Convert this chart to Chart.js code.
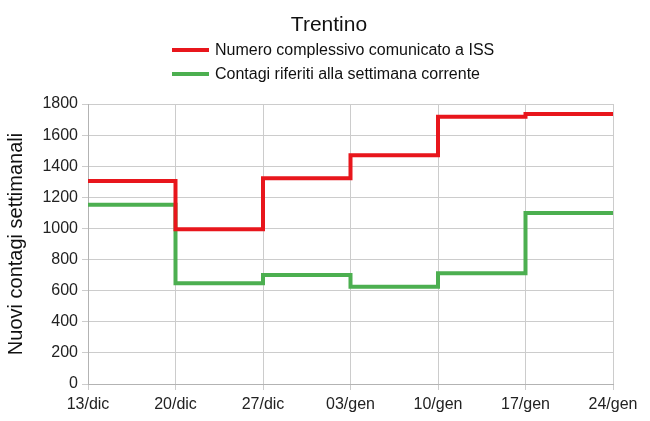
<!DOCTYPE html>
<html>
<head>
<meta charset="utf-8">
<script src="https://cdn.jsdelivr.net/npm/chart.js@4"></script>
<style>
	html, body { margin: 0; padding: 0; background: #fff; }
	#wrap { position: relative; width: 650px; height: 421px; font-family: 'Liberation Sans', Arial, sans-serif; color: #111; }
	#title { position: absolute; top: 11px; left: 4px; width: 650px; text-align: center; font-size: 21px; line-height: 26px; }
	.leg { position: absolute; left: 172px; font-size: 16px; line-height: 20px; display: flex; align-items: center; }
	.leg span.sw { display: inline-block; width: 37px; height: 4px; margin-right: 6px; }
	#chartBox { position: absolute; left: 0; top: 0; width: 650px; height: 421px; }
</style>
</head>
<body>
<div id="wrap">
	<div id="chartBox"><canvas id="trentino" width="650" height="421"></canvas></div>
	<div id="title">Trentino</div>
	<div class="leg" style="top:40px"><span class="sw" style="background:#e8161c"></span>Numero complessivo comunicato a ISS</div>
	<div class="leg" style="top:64px"><span class="sw" style="background:#4caf50"></span>Contagi riferiti alla settimana corrente</div>
</div>
<script>
// weeks (last label only closes the final step)
const weeks = ['13/dic', '20/dic', '27/dic', '03/gen', '10/gen', '17/gen', '24/gen'];
const totaleISS = [1305, 995, 1322, 1470, 1718, 1735, 1735];
const settimanaCorrente = [1152, 647, 700, 625, 712, 1100, 1100];
const yTicks = [0, 200, 400, 600, 800, 1000, 1200, 1400, 1600, 1800];

const ctx = document.getElementById('trentino').getContext('2d');
new Chart(ctx, {
	type: 'line',
	data: {
		labels: weeks,
		datasets: [
			{
				label: 'Numero complessivo comunicato a ISS',
				data: totaleISS,
				borderColor: '#e8161c',
				borderWidth: 4,
				stepped: 'before',
				pointRadius: 0,
				order: 0,
			},
			{
				label: 'Contagi riferiti alla settimana corrente',
				data: settimanaCorrente,
				borderColor: '#4caf50',
				borderWidth: 4,
				stepped: 'before',
				pointRadius: 0,
				order: 1,
			},
		],
	},
	options: {
		responsive: false,
		animation: false,
		layout: {
			padding: { top: 104, right: 37, left: 0, bottom: 0 },
		},
		plugins: {
			legend: { display: false },
			tooltip: { enabled: false },
		},
		scales: {
			x: {
				offset: false,
				grid: { color: '#cccccc', tickLength: 6 },
				border: { color: '#b3b3b3' },
				ticks: {
					color: '#222',
					font: { family: 'Liberation Sans', size: 16 },
					maxRotation: 0,
					autoSkip: false,
					padding: 5,
				},
				afterFit: (s) => { s.height = 37; },
			},
			y: {
				min: 0,
				max: 1800,
				afterBuildTicks: (s) => { s.ticks = yTicks.map((v) => ({ value: v })); },
				grid: { color: '#cccccc', tickLength: 6 },
				border: { color: '#b3b3b3' },
				ticks: {
					color: '#222',
					font: { family: 'Liberation Sans', size: 16 },
					padding: 4,
					callback: (v) => String(v),
				},
				title: {
					display: true,
					text: 'Nuovi contagi settimanali',
					color: '#111',
					font: { family: 'Liberation Sans', size: 20 },
					padding: { top: 4, bottom: 0 },
				},
				afterFit: (s) => { s.width = 88; },
			},
		},
	},
});
</script>
</body>
</html>
